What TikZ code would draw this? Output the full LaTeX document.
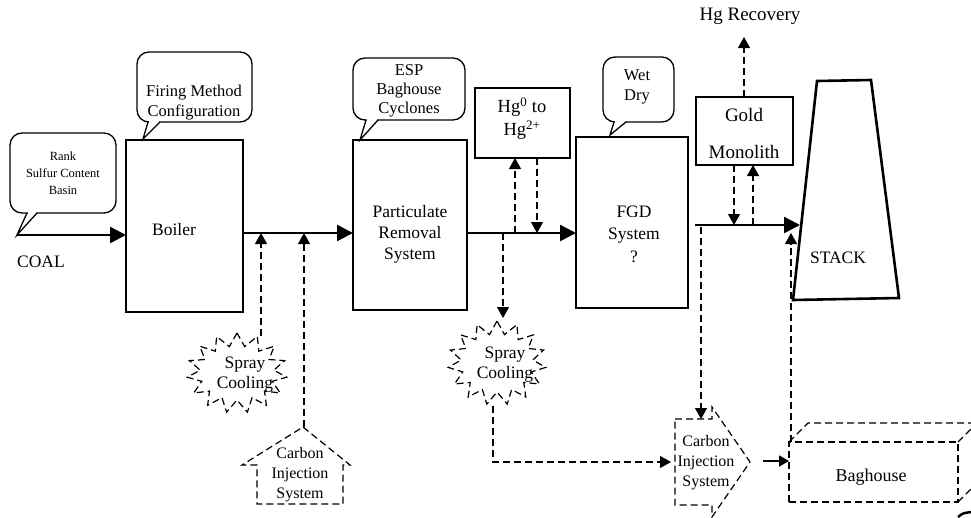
\documentclass[tikz,border=0pt]{standalone}
\usepackage{fontspec}
\setmainfont{Liberation Serif}
\usetikzlibrary{arrows.meta,shapes.symbols,shapes.geometric}
\begin{document}
\begin{tikzpicture}[x=1pt,y=-1pt,
  every node/.style={inner sep=0pt, outer sep=0pt},
  proc/.style={draw, line width=2.6pt},
  thinbox/.style={draw, line width=1.2pt},
  lbl/.style={align=center, font=\fontsize{17.5pt}{21pt}\selectfont},
  clbl/.style={align=center, font=\fontsize{16.5pt}{20pt}\selectfont},
  cilbl/.style={align=center, font=\fontsize{16pt}{20pt}\selectfont},
  biglbl/.style={align=center, font=\fontsize{19pt}{23pt}\selectfont},
  callout/.style={draw, line width=1.3pt, rounded corners=12pt},
  tail/.style={draw, line width=1.3pt},
  mainarrow/.style={line width=2.6pt, -{Triangle[length=16pt,width=16pt]}},
  dashline/.style={line width=1.2pt, dash pattern=on 7pt off 4pt},
  dasharrow/.style={dashline, -{Triangle[length=11pt,width=12pt]}},
  smallarrow/.style={line width=1.8pt, -{Triangle[length=10pt,width=11pt]}},
  burst/.style={draw, dashline, starburst, starburst points=15, starburst point height=13pt, random starburst=0}
]
\useasboundingbox (0,0) rectangle (971,517);

% ---------- callouts ----------
\draw[callout] (10,133) rectangle (116,213);
\fill[white] (27.8,211.5) rectangle (36.2,214.5);
\coordinate (coalstart) at (17,235);
\draw[tail] (27,213) -- (coalstart) -- (37,213);
\node[align=center, font=\fontsize{12.5pt}{17pt}\selectfont] (coalc) at (63,173) {Rank\\Sulfur Content\\Basin};

\draw[callout] (137,52) rectangle (252,122);
\fill[white] (148.8,120.5) rectangle (159.2,123.5);
\draw[tail] (148,122) -- (143,139) -- (160,122);
\node[clbl] (firec) at (194,103) {Firing Method\\Configuration};

\draw[callout] (353,58) rectangle (465,120);
\fill[white] (366.8,118.5) rectangle (377.2,121.5);
\draw[tail] (366,120) -- (360,140) -- (378,120);
\node[clbl, font=\fontsize{16.5pt}{19pt}\selectfont] (espc) at (409,91) {ESP\\Baghouse\\Cyclones};

\draw[callout] (603,57) rectangle (674,122);
\fill[white] (614.8,120.5) rectangle (625.2,123.5);
\draw[tail] (614,122) -- (610,135) -- (626,122);
\node[clbl] (wetc) at (637,87) {Wet\\Dry};

% ---------- main boxes ----------
\node[proc, minimum width=117pt, minimum height=172pt] (boiler) at (184.5,226) {};
\node[lbl] (boilert) at (174,230) {Boiler};
\node[proc, minimum width=114pt, minimum height=170pt] (prs) at (410,225) {};
\node[lbl] (prst) at (410,234) {Particulate\\Removal\\System};
\node[proc, minimum width=112pt, minimum height=171pt] (fgd) at (632,222.5) {};
\node[lbl, font=\fontsize{17.5pt}{22.5pt}\selectfont] (fgdt) at (634,234) {FGD\\System\\?};
\node[proc, minimum width=95pt, minimum height=70pt] (hg) at (522.5,123) {};
\node[align=center, font=\fontsize{18.5pt}{23pt}\selectfont] (hgt) at (522,119) {Hg\textsuperscript{0} to\\Hg\textsuperscript{2+}};
\node[thinbox, minimum width=97pt, minimum height=68pt] (gold) at (744.5,131) {};
\node[biglbl] (goldt) at (744,115) {Gold};
\node[biglbl] (monot) at (744,152) {Monolith};

% stack
\coordinate (stl) at (817,81);
\coordinate (str) at (871,80);
\coordinate (sbr) at (899,298);
\coordinate (sbl) at (793,300);
\draw[line width=2.6pt, line join=miter] (stl) -- (str) -- (sbr) -- (sbl) -- cycle;
\node[lbl] (stackt) at (838,258) {STACK};

% labels
\node[lbl] (coalt) at (41,262) {COAL};
\node[biglbl] (hgrec) at (750,16) {Hg Recovery};

% ---------- main flow ----------
\coordinate (m1) at (243,233);
\coordinate (m3) at (695,225);
\coordinate (stackin) at (800,225);
\draw[mainarrow] (coalstart) -- (coalstart -| boiler.west);
\draw[mainarrow] (boiler.east |- m1) -- (prs.west |- m1);
\draw[mainarrow] (prs.east |- m1) -- (fgd.west |- m1);
\draw[mainarrow] (m3) -- (stackin);

% ---------- spray cooling 1 & carbon injection 1 ----------
\node[burst, minimum width=100pt, minimum height=80pt] (spray1) at (237,373) {};
\node[lbl, font=\fontsize{17.5pt}{20pt}\selectfont] (spray1t) at (245,375) {Spray\\Cooling};
\coordinate (house) at (303,427);
\draw[dashline] (house) -- (350,465) -- (343,465) -- (343,504) -- (257,504) -- (257,465) -- (242,465) -- cycle;
\node[cilbl] (houset) at (300,475) {Carbon\\Injection\\System};
\draw[dasharrow] (261,336) -- (261,233);
\draw[dasharrow] (304,427) -- (304,233);

% ---------- Hg oxidation ----------
\draw[dasharrow] (515,233) -- (515,158);
\draw[dasharrow] (537,158) -- (537,233);

% ---------- spray cooling 2 ----------
\draw[dasharrow] (503,233) -- (503,318);
\node[burst, minimum width=98pt, minimum height=84pt] (spray2) at (497,363) {};
\node[lbl, font=\fontsize{17.5pt}{20pt}\selectfont] (spray2t) at (505,365) {Spray\\Cooling};

% ---------- carbon injection 2 ----------
\draw[dashline] (675,419) -- (712,419) -- (712,407) -- (750,462) -- (712,517) -- (712,505) -- (675,505) -- cycle;
\node[cilbl] (cit) at (706,463) {Carbon\\Injection\\System};
\draw[dasharrow] (493,406) -- (493,462) -- (671,462);
\draw[dasharrow] (701,227) -- (701,419);

% ---------- gold monolith ----------
\draw[dasharrow] (734,165) -- (734,225);
\draw[dasharrow] (753,225) -- (753,165);
\draw[dasharrow] (744,97) -- (744,37);

% ---------- baghouse ----------
\node[draw, dashline, minimum width=169pt, minimum height=60pt] (bag) at (873.5,472) {};
\draw[dashline] (bag.north west) -- (808,423) -- (978,423);
\draw[dashline] (bag.north east) -- (976,424);
\draw[dashline] (bag.south east) -- (976,484);
\node[font=\fontsize{18pt}{22pt}\selectfont] (bagt) at (871,477) {Baghouse};
\draw[smallarrow] (763,461) -- (789,461);
\draw[dasharrow] (791,442) -- (791,233);
\draw[line width=2.5pt] (958,517) .. controls (963,513) .. (972,512);
\end{tikzpicture}
\end{document}
